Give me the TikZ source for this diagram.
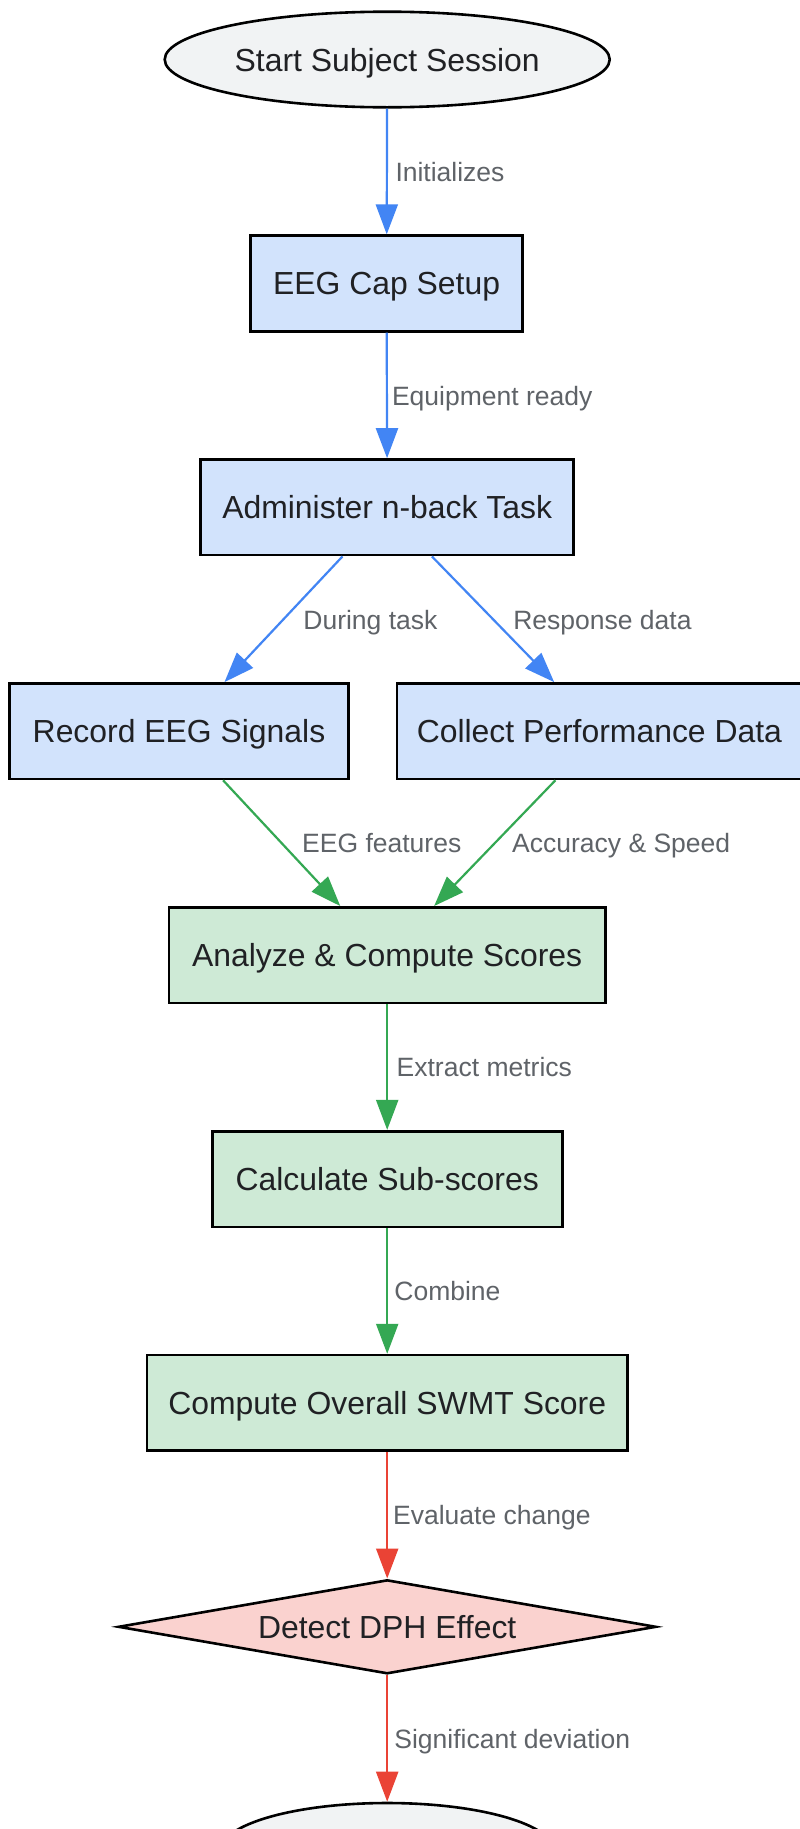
\documentclass[tikz,border=0pt]{standalone}
\usepackage{fontspec}
\setmainfont{Liberation Sans}
\usetikzlibrary{shapes.geometric,arrows.meta,calc}
\definecolor{bluefill}{HTML}{D2E3FC}
\definecolor{greenfill}{HTML}{CEEAD6}
\definecolor{redfill}{HTML}{FAD2CF}
\definecolor{greyfill}{HTML}{F1F3F4}
\definecolor{blueline}{HTML}{4285F4}
\definecolor{greenline}{HTML}{34A853}
\definecolor{redline}{HTML}{EA4335}
\definecolor{labelgrey}{HTML}{5F6368}
\definecolor{textdark}{HTML}{202124}
\begin{document}
\begin{tikzpicture}[x=1bp,y=-1bp,
  base/.style={draw=black, line width=2.6bp, text=textdark, inner sep=0pt,
    font=\fontsize{31.9bp}{38bp}\selectfont, text height=29.4bp, text depth=6.4bp},
  procbox/.style={base, rectangle, minimum height=95.6bp},
  termin/.style={base, ellipse, fill=greyfill},
  decide/.style={base, diamond, fill=redfill, minimum width=538bp, minimum height=94bp},
  conn/.style={line width=2.2bp, -{Triangle[length=30bp,width=22bp]}},
  elabel/.style={anchor=west, text=labelgrey, inner sep=0pt,
    font=\fontsize{26.5bp}{32bp}\selectfont, text height=24.5bp, text depth=5.1bp}
]
\useasboundingbox (0,0) rectangle (800,1829);
\clip (0,0) rectangle (800,1829);
\fill[white] (0,0) rectangle (800,1829);

% nodes
\node[termin, minimum width=445bp, minimum height=95.6bp] (start) at (387.2,59.5) {Start Subject Session};
\node[procbox, fill=bluefill, minimum width=272bp] (cap) at (386.6,283.4) {EEG Cap Setup};
\node[procbox, fill=bluefill, minimum width=373bp] (admin) at (387.2,507.3) {Administer n-back Task};
\node[procbox, fill=bluefill, minimum width=339.4bp] (rec) at (179,731.2) {Record EEG Signals};
\node[procbox, fill=bluefill, minimum width=405bp] (col) at (599.4,731.2) {Collect Performance Data};
\node[procbox, fill=greenfill, minimum width=436.2bp] (ana) at (387.2,955.1) {Analyze \& Compute Scores};
\node[procbox, fill=greenfill, minimum width=350bp] (calc) at (387.2,1179) {Calculate Sub-scores};
\node[procbox, fill=greenfill, minimum width=480.5bp] (comp) at (387.2,1402.9) {Compute Overall SWMT Score};
\node[decide, aspect=5.66] (diam) at (387.2,1626.8) {Detect DPH Effect};
\node[termin, minimum width=334bp, minimum height=96bp] (fin) at (387.2,1851) {};

% connectors
\draw[conn, blueline] (start) -- (cap);
\draw[conn, blueline] (cap) -- (admin);
\draw[conn, blueline] ($(admin.south west)!0.381!(admin.south east)$) -- ($(rec.north west)!0.633!(rec.north east)$);
\draw[conn, blueline] ($(admin.south west)!0.619!(admin.south east)$) -- ($(col.north west)!0.389!(col.north east)$);
\draw[conn, greenline] ($(rec.south west)!0.629!(rec.south east)$) -- ($(ana.north west)!0.393!(ana.north east)$);
\draw[conn, greenline] ($(col.south west)!0.392!(col.south east)$) -- ($(ana.north west)!0.607!(ana.north east)$);
\draw[conn, greenline] (ana) -- (calc);
\draw[conn, greenline] (calc) -- (comp);
\draw[conn, redline] (comp) -- (diam);
\draw[conn, redline] (diam) -- (fin);

% edge labels
\node[elabel] (l1) at (395.3,171.4) {Initializes};
\node[elabel] (l2) at (391.8,395.3) {Equipment ready};
\node[elabel] (l3) at (303.2,619.3) {During task};
\node[elabel] (l4) at (513.1,619.3) {Response data};
\node[elabel] (l5) at (302,843.2) {EEG features};
\node[elabel] (l6) at (512,843.2) {Accuracy \& Speed};
\node[elabel] (l7) at (396.5,1067) {Extract metrics};
\node[elabel] (l8) at (394.2,1291) {Combine};
\node[elabel] (l9) at (393,1515) {Evaluate change};
\node[elabel] (l10) at (394.2,1738.8) {Significant deviation};
\end{tikzpicture}
\end{document}
